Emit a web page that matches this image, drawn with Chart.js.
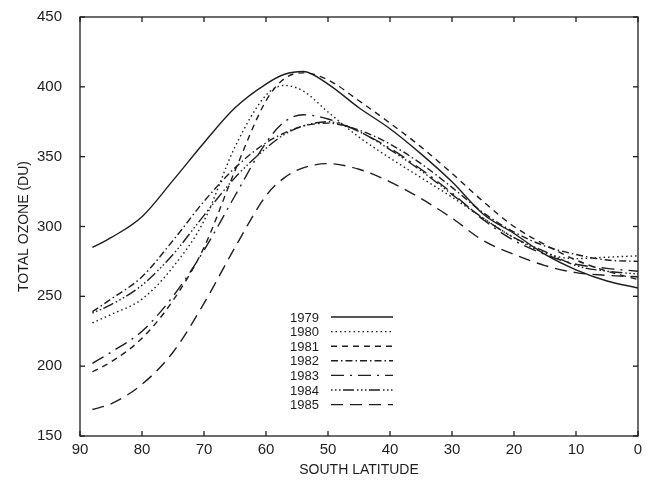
<!DOCTYPE html>
<html lang="en">
<head>
  <meta charset="UTF-8">
  <title>Total ozone - south latitude</title>
  <script src="https://cdn.jsdelivr.net/npm/chart.js"></script>
  <style>
    html, body {
      margin: 0;
      padding: 0;
      background: #fff;
    }
    #grafico-container {
      width: 650px;
      height: 489px;
    }
  </style>
</head>
<body>
  <div id="grafico-container">
    <canvas id="grafico"></canvas>
  </div>

  <script>
    // latitudes sul (graus) onde as curvas foram lidas
    const latitudes = [88, 85, 80, 75, 70, 65, 60, 57, 54, 50, 45, 40, 35, 30, 25, 20, 15, 10, 5, 0];

    const oz1979 = [285, 292, 307, 333, 360, 385, 402, 409, 411, 402, 385, 370, 352, 332, 309, 295, 280, 269, 261, 256];
    const oz1980 = [231, 237, 248, 271, 304, 357, 394, 401, 397, 382, 364, 349, 335, 321, 306, 292, 281, 277, 278, 279];
    const oz1981 = [196, 203, 220, 247, 285, 340, 390, 406, 410, 405, 390, 374, 357, 338, 318, 300, 287, 276, 268, 262];
    const oz1982 = [239, 248, 264, 290, 318, 342, 360, 367, 372, 374, 369, 359, 345, 328, 310, 296, 286, 280, 276, 275];
    const oz1983 = [202, 210, 225, 250, 283, 322, 360, 375, 380, 377, 368, 356, 341, 324, 305, 290, 280, 273, 270, 268];
    const oz1984 = [238, 244, 258, 280, 308, 335, 356, 366, 372, 375, 368, 355, 340, 323, 306, 292, 282, 272, 268, 266];
    const oz1985 = [169, 173, 187, 210, 245, 285, 322, 335, 342, 345, 341, 332, 320, 306, 290, 280, 272, 267, 265, 264];

    const anos = ["1979", "1980", "1981", "1982", "1983", "1984", "1985"];
    const series = [oz1979, oz1980, oz1981, oz1982, oz1983, oz1984, oz1985];

    // tracejado de cada ano, como na legenda original
    const tracos = [
      [],
      [1.5, 3],
      [6, 5],
      [7, 3, 1.5, 3],
      [13, 6, 2, 6],
      [1.5, 2.5, 1.5, 2.5, 1.5, 2.5, 11, 3],
      [12, 7]
    ];

    const tinta = "#1e1e1e";
    const fonte = "'Liberation Sans', Arial, sans-serif";

    // moldura, marcas internas dos eixos e legenda dentro do gráfico
    const moldura = {
      id: "moldura",
      afterDraw(chart) {
        const { ctx, chartArea: a, scales } = chart;
        ctx.save();
        ctx.strokeStyle = tinta;
        ctx.lineWidth = 1.3;
        ctx.strokeRect(a.left, a.top, a.right - a.left, a.bottom - a.top);

        const risco = (x1, y1, x2, y2) => {
          ctx.beginPath();
          ctx.moveTo(x1, y1);
          ctx.lineTo(x2, y2);
          ctx.stroke();
        };

        scales.x.ticks.forEach(t => {
          const px = scales.x.getPixelForValue(t.value);
          risco(px, a.bottom, px, a.bottom - 5);
          risco(px, a.top, px, a.top + 5);
        });
        scales.y.ticks.forEach(t => {
          const py = scales.y.getPixelForValue(t.value);
          risco(a.left, py, a.left + 5, py);
          risco(a.right, py, a.right - 5, py);
        });

        // legenda
        ctx.font = "13px " + fonte;
        ctx.fillStyle = tinta;
        ctx.textBaseline = "middle";
        ctx.lineWidth = 1.4;
        chart.data.datasets.forEach((ds, i) => {
          const y = 317 + i * 14.6;
          ctx.setLineDash([]);
          ctx.fillText(ds.label, 290, y + 1);
          ctx.setLineDash(ds.borderDash);
          risco(331, y, 393, y);
        });
        ctx.restore();
      }
    };

    const ctx = document.getElementById("grafico").getContext("2d");

    new Chart(ctx, {
      type: "line",
      data: {
        datasets: anos.map((ano, i) => ({
          label: ano,
          data: latitudes.map((lat, j) => ({ x: lat, y: series[i][j] })),
          borderColor: tinta,
          borderWidth: 1.4,
          borderDash: tracos[i],
          pointRadius: 0,
          fill: false,
          cubicInterpolationMode: "monotone"
        }))
      },
      options: {
        responsive: true,
        maintainAspectRatio: false,
        animation: false,
        layout: {
          padding: { top: 17, right: 12, bottom: 10, left: 0 }
        },
        plugins: {
          legend: { display: false },
          tooltip: { enabled: false }
        },
        scales: {
          x: {
            type: "linear",
            reverse: true,
            min: 0,
            max: 90,
            grid: { display: false, drawTicks: false },
            border: { display: false },
            ticks: {
              stepSize: 10,
              color: tinta,
              padding: 5,
              font: { family: fonte, size: 15 }
            },
            title: {
              display: true,
              text: "SOUTH LATITUDE",
              color: tinta,
              padding: { top: 4, bottom: 0 },
              font: { family: fonte, size: 14 }
            },
            afterFit(scale) {
              scale.height = 43;
              scale.paddingLeft = 0;
              scale.paddingRight = 0;
            }
          },
          y: {
            min: 150,
            max: 450,
            grid: { display: false, drawTicks: false },
            border: { display: false },
            ticks: {
              stepSize: 50,
              color: tinta,
              padding: 18,
              font: { family: fonte, size: 15 }
            },
            title: {
              display: true,
              text: "TOTAL OZONE (DU)",
              color: tinta,
              padding: { top: 16, bottom: 0 },
              font: { family: fonte, size: 14 }
            },
            afterFit(scale) {
              scale.width = 80;
              scale.paddingTop = 0;
              scale.paddingBottom = 0;
            }
          }
        }
      },
      plugins: [moldura]
    });
  </script>
</body>
</html>
